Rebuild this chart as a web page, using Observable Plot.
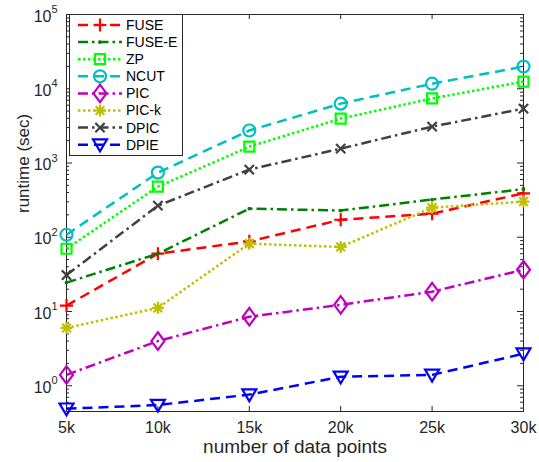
<!DOCTYPE html>
<html><head><meta charset="utf-8">
<script src="https://cdn.jsdelivr.net/npm/d3@7"></script>
<script src="https://cdn.jsdelivr.net/npm/@observablehq/plot@0.6"></script>
<style>
body{margin:0;background:#fff;font-family:"Liberation Sans",Arial,sans-serif;}
#wrap{position:relative;width:539px;height:462px;}
#legend{position:absolute;left:69px;top:14px;}
</style></head><body><div id="wrap"></div>
<script>
// ---- data ----
const xValues = [5000, 10000, 15000, 20000, 25000, 30000];
const xTickLabels = ["5k", "10k", "15k", "20k", "25k", "30k"];
const yTickValues = [1, 10, 100, 1000, 10000, 100000];
const yTickExponents = ["0", "1", "2", "3", "4", "5"];
const seriesNames = ["FUSE", "FUSE-E", "ZP", "NCUT", "PIC", "PIC-k", "DPIC", "DPIE"];
const fuse  = [12, 60, 88, 172, 208, 390];
const fuseE = [24.5, 60, 243, 229, 322, 445];
const zp    = [70, 480, 1660, 3960, 7400, 12500];
const ncut  = [108, 742, 2740, 6300, 11700, 19900];
const pic   = [1.4, 4.0, 8.5, 12.3, 18.5, 36.5];
const pick  = [6.0, 11.2, 82, 74, 250, 302];
const dpic  = [31, 266, 815, 1560, 3090, 5400];
const dpie  = [0.49, 0.55, 0.76, 1.32, 1.4, 2.7];
const seriesValues = [fuse, fuseE, zp, ncut, pic, pick, dpic, dpie];
const xLabel = "number of data points";
const yLabel = "runtime (sec)";

// ---- styles ----
const seriesColors = ["#ff0000", "#008000", "#00ff00", "#00bfbf", "#bf00bf", "#bfbf00", "#404040", "#0000ff"];
const DASH = "10,6", DOT = "2.5,2.5", DASHDOT = "10,4,2.5,4";
const seriesDash = [DASH, DASHDOT, DOT, DASH, DASHDOT, DOT, DASHDOT, DASH];

function mk(fn, fill) { return {draw(c, size) { fn(c, Math.sqrt(size / Math.PI)); }, fill}; }
const symPlus = mk((c, r) => { c.moveTo(-r, 0); c.lineTo(r, 0); c.moveTo(0, -r); c.lineTo(0, r); });
const symPoint = mk((c, r) => { c.moveTo(r, 0); c.arc(0, 0, r, 0, 2 * Math.PI); }, true);
const symSquare = mk((c, r) => { c.moveTo(-r, -r); c.lineTo(r, -r); c.lineTo(r, r); c.lineTo(-r, r); c.closePath(); });
const symCircle = mk((c, r) => { c.moveTo(r, 0); c.arc(0, 0, r, 0, 2 * Math.PI); });
const symDiamond = mk((c, r) => { c.moveTo(0, -r * 1.35); c.lineTo(r, 0); c.lineTo(0, r * 1.35); c.lineTo(-r, 0); c.closePath(); });
const symAster = mk((c, r) => { const a = r * 0.72; c.moveTo(-r, 0); c.lineTo(r, 0); c.moveTo(0, -r); c.lineTo(0, r); c.moveTo(-a, -a); c.lineTo(a, a); c.moveTo(-a, a); c.lineTo(a, -a); });
const symTimes = mk((c, r) => { const a = r * 0.8; c.moveTo(-a, -a); c.lineTo(a, a); c.moveTo(-a, a); c.lineTo(a, -a); });
const symTriDown = mk((c, r) => { c.moveTo(-r, -r * 0.75); c.lineTo(r, -r * 0.75); c.lineTo(0, r * 0.95); c.closePath(); });
const seriesSymbol = [symPlus, symPoint, symSquare, symCircle, symDiamond, symAster, symTimes, symTriDown];
const seriesR = [6.5, 0.8, 5, 6, 6.5, 6, 5.8, 7];

// ---- layout ----
const W = 539, H = 462, mL = 66, mR = 16, mT = 14, mB = 51;
const fw = W - mL - mR, fh = H - mT - mB;
const AX = "#262626";

const table = seriesNames.flatMap((name, i) => xValues.map((x, j) => ({series: name, x, y: seriesValues[i][j]})));

const minorTicks = [];
for (let e = -1; e < 5; e++) for (let k = 2; k <= 9; k++) { const v = k * Math.pow(10, e); if (v >= 0.45 && v <= 1e5) minorTicks.push(v); }
const innerX = xValues.slice(1, -1);

const marks = [
  Plot.frame({stroke: AX, strokeWidth: 1}),
  Plot.tickY(yTickValues, {y: d => d, insetRight: fw - 6, stroke: AX}),
  Plot.tickY(yTickValues, {y: d => d, insetLeft: fw - 6, stroke: AX}),
  Plot.tickY(minorTicks, {y: d => d, insetRight: fw - 3, stroke: AX}),
  Plot.tickY(minorTicks, {y: d => d, insetLeft: fw - 3, stroke: AX}),
  Plot.tickX(innerX, {x: d => d, insetTop: fh - 5, stroke: AX}),
  Plot.tickX(innerX, {x: d => d, insetBottom: fh - 5, stroke: AX}),
  Plot.axisX(xValues, {tickFormat: d => xTickLabels[xValues.indexOf(d)], tickSize: 0, tickPadding: 10, fontSize: 16, label: null, color: AX}),
  Plot.text(yTickValues, {y: d => d, frameAnchor: "left", text: () => "10", textAnchor: "end", dx: -15, dy: 2, fontSize: 16, fill: AX}),
  Plot.text(yTickValues, {y: d => d, frameAnchor: "left", text: (d, i) => yTickExponents[i], textAnchor: "start", dx: -15, dy: -5, fontSize: 11, fill: AX}),
  Plot.text([xLabel], {frameAnchor: "bottom", text: d => d, dy: 41, fontSize: 19, fill: AX}),
  Plot.text([yLabel], {frameAnchor: "left", text: d => d, dx: -43, rotate: -90, fontSize: 17, fill: AX})
];
seriesNames.forEach((name, i) => {
  const rows = table.filter(d => d.series === name);
  marks.push(Plot.line(rows, {x: "x", y: "y", stroke: seriesColors[i], strokeWidth: 2.5, strokeDasharray: seriesDash[i], strokeLinecap: "butt"}));
  const sym = seriesSymbol[i];
  marks.push(Plot.dot(rows, {x: "x", y: "y", symbol: sym, r: seriesR[i], stroke: seriesColors[i], strokeWidth: 2.2, fill: sym.fill ? seriesColors[i] : "none"}));
});

const chart = Plot.plot({
  width: W, height: H,
  marginLeft: mL, marginRight: mR, marginTop: mT, marginBottom: mB,
  style: {fontFamily: "'Liberation Sans', Arial, sans-serif", background: "white", color: AX, overflow: "visible"},
  x: {type: "linear", domain: [5000, 30000]},
  y: {type: "log", domain: [0.45, 1e5], axis: null},
  marks
});
const wrap = document.getElementById("wrap");
wrap.appendChild(chart);

// ---- legend ----
const lw = 114, lh = 142, rowH = 17.1, row0 = 11;
const svg = d3.select(wrap).append("svg").attr("id", "legend").attr("width", lw).attr("height", lh)
  .style("font-family", "'Liberation Sans', Arial, sans-serif");
svg.append("rect").attr("x", 0.5).attr("y", 0.5).attr("width", lw - 1).attr("height", lh - 1).attr("fill", "white").attr("stroke", AX);
seriesNames.forEach((name, i) => {
  const y = row0 + i * rowH;
  const g = svg.append("g").attr("transform", `translate(0,${y})`);
  g.append("line").attr("x1", 9).attr("x2", 53).attr("y1", 0).attr("y2", 0)
    .attr("stroke", seriesColors[i]).attr("stroke-width", 2.5).attr("stroke-dasharray", seriesDash[i]);
  const p = d3.path();
  const r = seriesR[i];
  seriesSymbol[i].draw(p, r * r * Math.PI);
  g.append("path").attr("transform", "translate(31,0)").attr("d", p.toString())
    .attr("stroke", seriesColors[i]).attr("stroke-width", 2.2).attr("fill", seriesSymbol[i].fill ? seriesColors[i] : "none");
  g.append("text").attr("x", 57).attr("y", 0).attr("dy", "0.35em").attr("font-size", 14).attr("fill", "#000").text(name);
});
</script></body></html>
